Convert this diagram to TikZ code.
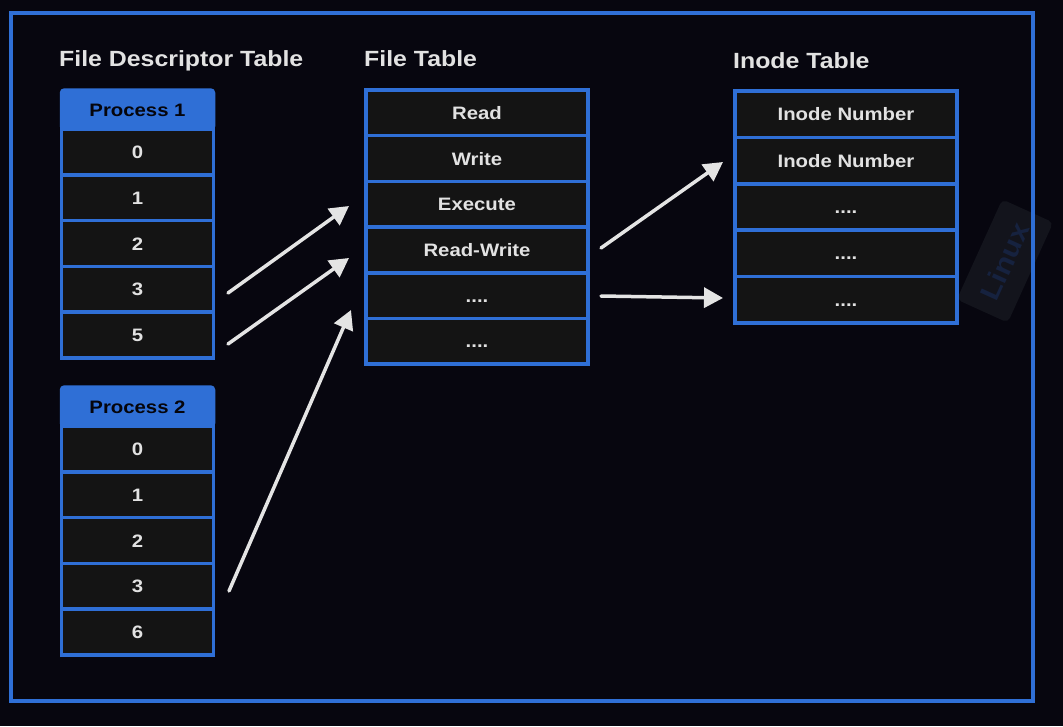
\documentclass[tikz,border=0pt]{standalone}
\usepackage{fontspec}
\setmainfont[FakeStretch=1.13]{Liberation Sans}
\usetikzlibrary{arrows.meta}
\definecolor{bg}{HTML}{07060F}
\definecolor{fblue}{HTML}{2F6FD6}
\definecolor{cellbg}{HTML}{141414}
\definecolor{txt}{HTML}{E2E2E2}
\definecolor{arrc}{HTML}{E4E4E4}
\definecolor{hdtxt}{HTML}{05050C}
\definecolor{wmfill}{HTML}{13141C}
\definecolor{wmtxt}{HTML}{16223F}
\newcommand{\fourdots}{....}
\begin{document}
\begin{tikzpicture}[x=1pt,y=-1pt,
  cell/.style={draw=fblue, line width=3.5pt, fill=cellbg, inner sep=0pt,
    text=txt, font=\bfseries\fontsize{18}{18}\selectfont,
    text height=13pt, text depth=0pt},
  fdcell/.style={cell, minimum width=152pt, minimum height=45.8pt},
  ftcell/.style={cell, minimum width=222pt, minimum height=45.7pt},
  incell/.style={cell, minimum width=222pt, minimum height=46.4pt},
  header/.style={draw=fblue, line width=3.5pt, fill=fblue, rounded corners=3pt,
    inner sep=0pt, minimum width=152pt, minimum height=39pt, text=hdtxt,
    font=\bfseries\fontsize{18}{18}\selectfont, text height=13pt, text depth=0pt},
  title/.style={anchor=base west, inner sep=0pt, text=txt,
    font=\bfseries\fontsize{22}{22}\selectfont},
  arrow/.style={draw=arrc, line width=3.5pt, line cap=round,
    -{Triangle[length=19pt,width=20pt]}},
  tag/.style={fill=wmfill, rounded corners=5pt, rotate=65.6, minimum width=110pt,
    minimum height=56pt, inner sep=0pt, text=wmtxt,
    font=\bfseries\fontsize{27}{27}\selectfont}
]
\fill[bg] (0,0) rectangle (1063,726);
\useasboundingbox (0,0) rectangle (1063,726);

% watermark tag
\node[tag] (wm) at (1005,261) {Linux};

% outer frame
\draw[fblue, line width=3.5pt] (11,13) rectangle (1033,701);

% titles
\node[title] (t1) at (59,66) {File Descriptor Table};
\node[title] (t2) at (364,66) {File Table};
\node[title] (t3) at (733,68) {Inode Table};

% process 1
\node[header] (p1h) at (137.5,109.5) {Process 1};
\foreach \lbl [count=\i] in {0,1,2,3,5}
  \node[fdcell] (p1r\i) at (137.5,{129+45.8*(\i-0.5)}) {\lbl};

% process 2
\node[header] (p2h) at (137.5,406.5) {Process 2};
\foreach \lbl [count=\i] in {0,1,2,3,6}
  \node[fdcell] (p2r\i) at (137.5,{426+45.8*(\i-0.5)}) {\lbl};

% file table
\foreach \lbl [count=\i] in {Read,Write,Execute,Read-Write,\fourdots,\fourdots}
  \node[ftcell] (ft\i) at (477,{90+45.7*(\i-0.5)}) {\lbl};

% inode table
\foreach \lbl [count=\i] in {Inode Number,Inode Number,\fourdots,\fourdots,\fourdots}
  \node[incell] (in\i) at (846,{91+46.4*(\i-0.5)}) {\lbl};

% arrow end points
\coordinate (a1s) at (228,293);
\coordinate (a1e) at (349,206);
\coordinate (a2s) at (228,344);
\coordinate (a2e) at (349,258);
\coordinate (a3s) at (229,591);
\coordinate (a3e) at (351,310);
\coordinate (a4s) at (601,248);
\coordinate (a4e) at (723,162);
\coordinate (a5s) at (601,296);
\coordinate (a5e) at (723,298);

\draw[arrow] (a1s) -- (a1e);
\draw[arrow] (a2s) -- (a2e);
\draw[arrow] (a3s) -- (a3e);
\draw[arrow] (a4s) -- (a4e);
\draw[arrow] (a5s) -- (a5e);
\end{tikzpicture}
\end{document}
